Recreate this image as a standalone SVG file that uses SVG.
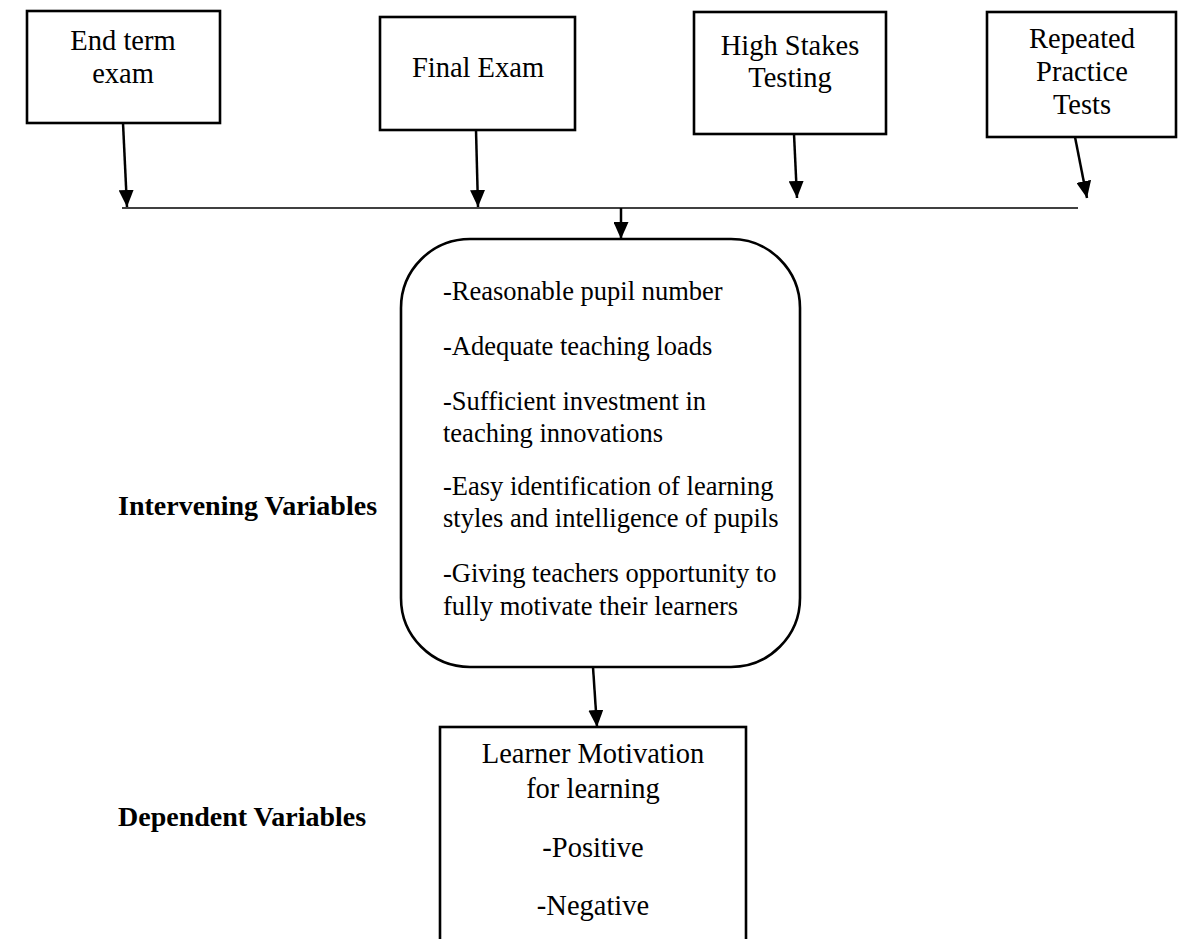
<svg xmlns="http://www.w3.org/2000/svg" width="1183" height="939" viewBox="0 0 1183 939">
<style>
.box{fill:#fff;stroke:#000;stroke-width:2.6}
.t{font-family:"Liberation Serif","Times New Roman",serif;font-size:28.5px;fill:#000;text-anchor:middle}
.s{font-family:"Liberation Serif","Times New Roman",serif;font-size:26.5px;fill:#000}
.lbl{font-family:"Liberation Serif","Times New Roman",serif;font-size:28px;font-weight:bold;fill:#000}
.c{stroke:#000;stroke-width:2.5;fill:none}
</style>
<defs>
<marker id="ah" viewBox="0 0 17 15" refX="17" refY="7.5" markerWidth="17" markerHeight="15" markerUnits="userSpaceOnUse" orient="auto">
<path d="M0,0 L17,7.5 L0,15 Z" fill="#000"/>
</marker>
</defs>
<g id="n1"><rect class="box" x="27" y="11" width="193" height="112"/><text class="t" x="123" y="50">End term</text><text class="t" x="123" y="83">exam</text></g>
<g id="n2"><rect class="box" x="380" y="17" width="195" height="113"/><text class="t" x="478" y="77">Final Exam</text></g>
<g id="n3"><rect class="box" x="694" y="12" width="192" height="122"/><text class="t" x="790" y="55">High Stakes</text><text class="t" x="790" y="87">Testing</text></g>
<g id="n4"><rect class="box" x="987" y="12" width="189" height="125"/><text class="t" x="1082" y="48">Repeated</text><text class="t" x="1082" y="81">Practice</text><text class="t" x="1082" y="114">Tests</text></g>
<g id="n5"><rect class="box" x="401" y="239" width="399" height="428" rx="69" ry="69"/>
<text class="s" x="443" y="300">-Reasonable pupil number</text>
<text class="s" x="443" y="355">-Adequate teaching loads</text>
<text class="s" x="443" y="410">-Sufficient investment in</text>
<text class="s" x="443" y="442">teaching innovations</text>
<text class="s" x="443" y="495">-Easy identification of learning</text>
<text class="s" x="443" y="527">styles and intelligence of pupils</text>
<text class="s" x="443" y="582">-Giving teachers opportunity to</text>
<text class="s" x="443" y="615">fully motivate their learners</text>
</g>
<g id="n6"><rect class="box" x="440" y="727" width="306" height="240"/>
<text class="t" x="593" y="763">Learner Motivation</text>
<text class="t" x="593" y="798">for learning</text>
<text class="t" x="593" y="857">-Positive</text>
<text class="t" x="593" y="915">-Negative</text>
</g>
<g id="labels">
<text class="lbl" x="118" y="515">Intervening Variables</text>
<text class="lbl" x="118" y="826">Dependent Variables</text>
</g>
<g id="connectors">
<line x1="122" y1="208" x2="1078" y2="208" stroke="#000" stroke-width="1.5"/>
<line class="c" x1="123" y1="123" x2="127" y2="207" marker-end="url(#ah)"/>
<line class="c" x1="476" y1="130" x2="478" y2="207" marker-end="url(#ah)"/>
<line class="c" x1="794" y1="134" x2="797" y2="198" marker-end="url(#ah)"/>
<line class="c" x1="1075" y1="137" x2="1087" y2="198" marker-end="url(#ah)"/>
<line class="c" x1="621" y1="208" x2="621" y2="239" marker-end="url(#ah)"/>
<line class="c" x1="593" y1="667" x2="597" y2="727" marker-end="url(#ah)"/>
</g>
</svg>
